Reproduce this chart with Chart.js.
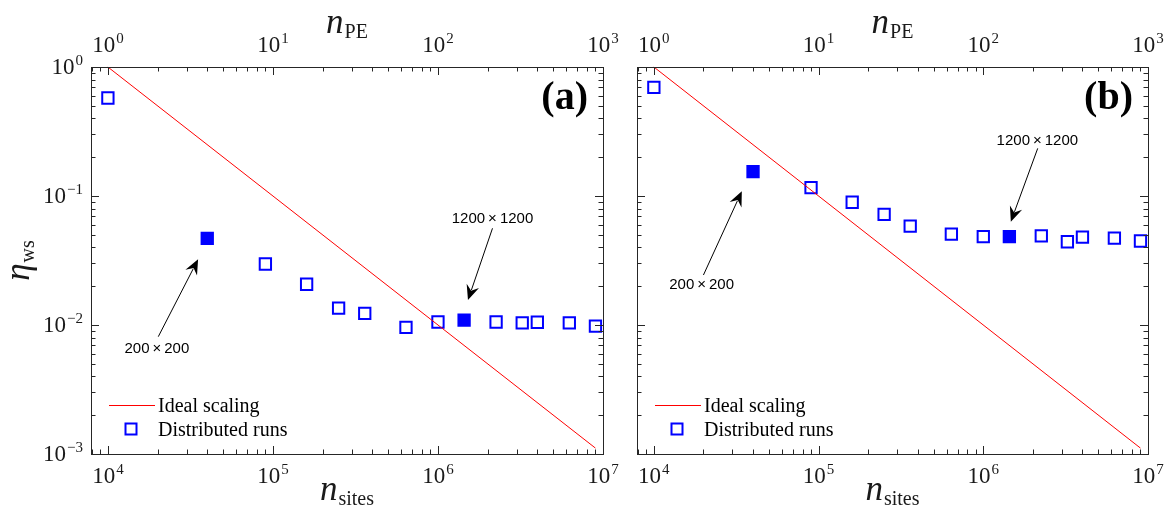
<!DOCTYPE html>
<html>
<head>
<meta charset="utf-8">
<script src="https://cdn.jsdelivr.net/npm/chart.js@4.4.1/dist/chart.umd.min.js"></script>
<style>
  body { margin: 0; background: #fff; }
  #wrap { position: relative; width: 1165px; height: 510px; }
  canvas { position: absolute; top: 0; }
  #chart-a { left: 0; }
  #chart-b { left: 620px; }
</style>
</head>
<body>
<div id="wrap">
  <canvas id="chart-a" width="620" height="510"></canvas>
  <canvas id="chart-b" width="545" height="510"></canvas>
</div>
<script>
// lattice sizes (n_sites), n_PE = n_sites / 1e4
const nSites = [1e4, 4e4, 9e4, 1.6e5, 2.5e5, 3.6e5, 6.4e5, 1e6, 1.44e6, 2.25e6, 3.24e6, 4e6, 6.25e6, 9e6];
// weak scaling efficiency, panel (a) and (b)
const etaA = [0.575, 0.0470, 0.0297, 0.0207, 0.0135, 0.0123, 0.0096, 0.01055, 0.0109, 0.01055, 0.0104, 0.0105, 0.0104, 0.0098];
const etaB = [0.696, 0.1544, 0.116, 0.0894, 0.0721, 0.0585, 0.0507, 0.0484, 0.0484, 0.0490, 0.0442, 0.0480, 0.0472, 0.0448];
// highlighted runs (filled squares)
const filledSites = [4e4, 1.44e6];
// ideal scaling line
const idealX = [1e4, 9e6];
const idealY = [1, 1 / 900];
// axis decades
const bottomExps = [4, 5, 6, 7];
const topExps = [0, 1, 2, 3];
const leftExps = [-3, -2, -1, 0];
const xMin = 7.9e3, xMax = 1e7, yMin = 1e-3, yMax = 1;

// annotations, [text, textX, textY, tailX, tailY, headX, headY] in data units
const annotA = [
  ['200\u2009\u00d7\u2009200', 1.98e4, 6.52e-3, 2.02e4, 8.12e-3, 3.52e4, 0.0323],
  ['1200\u2009\u00d7\u20091200', 2.14e6, 0.0663, 2.14e6, 0.0562, 1.52e6, 0.0156]
];
const annotB = [
  ['200\u2009\u00d7\u2009200', 1.95e4, 0.0204, 2.0e4, 0.0244, 3.42e4, 0.109],
  ['1200\u2009\u00d7\u20091200', 2.13e6, 0.268, 2.14e6, 0.234, 1.47e6, 0.0632]
];

const SERIF = '"Liberation Serif", "Times New Roman", serif';
const SANS = '"Liberation Sans", Arial, sans-serif';
const AXIS = '#262626';

function powText(ctx, exp, x, y, align) {
  const base = '10';
  const sup = exp < 0 ? '\u2212' + (-exp) : String(exp);
  ctx.font = '23px ' + SERIF;
  const wb = ctx.measureText(base).width;
  ctx.font = '15px ' + SERIF;
  const ws = ctx.measureText(sup).width;
  const total = wb + ws + 1;
  const x0 = align === 'center' ? x - total / 2 : x - total;
  ctx.textAlign = 'left';
  ctx.textBaseline = 'alphabetic';
  ctx.font = '23px ' + SERIF;
  ctx.fillText(base, x0, y);
  ctx.font = '15px ' + SERIF;
  ctx.fillText(sup, x0 + wb + 1, y - 9);
}

function mathLabel(ctx, sym, sub, x, y) {
  // italic symbol + upright subscript, centred on x, baseline y
  ctx.font = 'italic 35px ' + SERIF;
  const w1 = ctx.measureText(sym).width;
  ctx.font = '20px ' + SERIF;
  const w2 = ctx.measureText(sub).width;
  const x0 = x - (w1 + w2 + 1) / 2;
  ctx.textAlign = 'left';
  ctx.textBaseline = 'alphabetic';
  ctx.font = 'italic 35px ' + SERIF;
  ctx.fillText(sym, x0, y);
  ctx.font = '20px ' + SERIF;
  ctx.fillText(sub, x0 + w1 + 1, y + 5);
}

function arrow(ctx, x1, y1, x2, y2) {
  const ang = Math.atan2(y2 - y1, x2 - x1);
  const L = 15, W = 6.5;
  const c = Math.cos(ang), s = Math.sin(ang);
  ctx.beginPath();
  ctx.moveTo(x1, y1);
  ctx.lineTo(x2 - c * L * 0.7, y2 - s * L * 0.7);
  ctx.stroke();
  ctx.beginPath();
  ctx.moveTo(x2, y2);
  ctx.lineTo(x2 - c * L - s * W, y2 - s * L + c * W);
  ctx.lineTo(x2 - c * L * 0.65, y2 - s * L * 0.65);
  ctx.lineTo(x2 - c * L + s * W, y2 - s * L - c * W);
  ctx.closePath();
  ctx.fill();
}

const decorPlugin = {
  id: 'decor',
  afterDraw(chart, args, o) {
    const ctx = chart.ctx;
    const a = chart.chartArea;
    const xs = chart.scales.x, xt = chart.scales.xTop, ys = chart.scales.y;
    ctx.save();
    ctx.strokeStyle = AXIS;
    ctx.fillStyle = AXIS;
    ctx.lineWidth = 1;

    // box
    ctx.strokeRect(Math.round(a.left) + 0.5, Math.round(a.top) + 0.5,
      Math.round(a.right - a.left), Math.round(a.bottom - a.top));

    // ticks (inward)
    ctx.beginPath();
    for (let e = 3; e <= 7; e++) {
      for (let m = 1; m <= 9; m++) {
        const v = m * Math.pow(10, e);
        if (v < xMin || v > xMax) continue;
        const px = Math.round(xs.getPixelForValue(v)) + 0.5;
        const len = m === 1 ? 8 : 4.5;
        ctx.moveTo(px, a.bottom); ctx.lineTo(px, a.bottom - len);
        ctx.moveTo(px, a.top); ctx.lineTo(px, a.top + len);
      }
    }
    for (let e = -3; e <= 0; e++) {
      for (let m = 1; m <= 9; m++) {
        const v = m * Math.pow(10, e);
        if (v < yMin || v > yMax) continue;
        const py = Math.round(ys.getPixelForValue(v)) + 0.5;
        const len = m === 1 ? 8 : 4.5;
        ctx.moveTo(a.left, py); ctx.lineTo(a.left + len, py);
        ctx.moveTo(a.right, py); ctx.lineTo(a.right - len, py);
      }
    }
    ctx.stroke();

    // tick labels
    ctx.fillStyle = '#1a1a1a';
    bottomExps.forEach(e => powText(ctx, e, xs.getPixelForValue(Math.pow(10, e)), a.bottom + 29, 'center'));
    topExps.forEach(e => powText(ctx, e, xt.getPixelForValue(Math.pow(10, e)), a.top - 15, 'center'));
    if (o.yLabels) {
      leftExps.forEach(e => powText(ctx, e, a.left - 8, ys.getPixelForValue(Math.pow(10, e)) + 7, 'right'));
    }

    // axis titles
    const cx = (a.left + a.right) / 2;
    mathLabel(ctx, 'n', 'PE', cx, 33);
    mathLabel(ctx, 'n', 'sites', cx, a.bottom + 46);
    if (o.yLabels) {
      ctx.save();
      ctx.translate(29, (a.top + a.bottom) / 2);
      ctx.rotate(-Math.PI / 2);
      mathLabel(ctx, '\u03b7', 'ws', 0, 0);
      ctx.restore();
    }

    // panel letter
    ctx.fillStyle = '#000';
    ctx.font = 'bold 40px ' + SERIF;
    ctx.textAlign = 'right';
    ctx.fillText(o.letter, a.right - 15, a.top + 42);

    // annotations
    ctx.strokeStyle = '#000';
    ctx.fillStyle = '#000';
    ctx.lineWidth = 1;
    ctx.font = '15px ' + SANS;
    ctx.textAlign = 'center';
    ctx.textBaseline = 'middle';
    o.annot.forEach(([t, tx, ty, x1, y1, x2, y2]) => {
      ctx.fillText(t, xs.getPixelForValue(tx), ys.getPixelForValue(ty));
      arrow(ctx, xs.getPixelForValue(x1), ys.getPixelForValue(y1),
        xs.getPixelForValue(x2), ys.getPixelForValue(y2));
    });

    // legend
    const ds = chart.data.datasets;
    const lx = a.left;
    const r1 = a.bottom - 49, r2 = a.bottom - 25;
    ctx.strokeStyle = ds[0].borderColor;
    ctx.lineWidth = ds[0].borderWidth;
    ctx.beginPath();
    ctx.moveTo(lx + 18, r1 + 0.5); ctx.lineTo(lx + 64, r1 + 0.5);
    ctx.stroke();
    ctx.strokeStyle = ds[1].pointBorderColor;
    ctx.lineWidth = ds[1].pointBorderWidth;
    ctx.strokeRect(lx + 34.5, r2 - 5.5, 11, 11);
    ctx.fillStyle = '#000';
    ctx.font = '20px ' + SERIF;
    ctx.textAlign = 'left';
    ctx.textBaseline = 'alphabetic';
    ctx.fillText(ds[0].label, lx + 67, r1 + 7);
    ctx.fillText(ds[1].label, lx + 67, r2 + 7);
    ctx.restore();
  }
};

function makePanel(id, eta, pad, opts) {
  return new Chart(document.getElementById(id), {
    type: 'line',
    data: {
      datasets: [
        {
          label: 'Ideal scaling',
          data: idealX.map((x, i) => ({ x, y: idealY[i] })),
          borderColor: '#ff0000',
          borderWidth: 1,
          pointRadius: 0,
          clip: false
        },
        {
          label: 'Distributed runs',
          data: nSites.map((x, i) => ({ x, y: eta[i] })),
          showLine: false,
          pointStyle: 'rect',
          pointRadius: 8,
          pointBorderWidth: 2,
          pointBorderColor: '#0000ff',
          pointBackgroundColor: nSites.map(n => filledSites.includes(n) ? '#0000ff' : 'rgba(0,0,0,0)'),
          clip: false
        }
      ]
    },
    options: {
      responsive: false,
      animation: false,
      layout: { padding: pad },
      scales: {
        x: { type: 'logarithmic', min: xMin, max: xMax, display: false },
        xTop: { type: 'logarithmic', position: 'top', min: xMin / 1e4, max: xMax / 1e4, display: false },
        y: { type: 'logarithmic', min: yMin, max: yMax, display: false }
      },
      plugins: {
        legend: { display: false },
        tooltip: { enabled: false },
        decor: opts
      }
    },
    plugins: [decorPlugin]
  });
}

makePanel('chart-a', etaA, { left: 91, right: 17, top: 67, bottom: 56 },
  { letter: '(a)', yLabels: true, annot: annotA });
makePanel('chart-b', etaB, { left: 17, right: 17, top: 67, bottom: 56 },
  { letter: '(b)', yLabels: false, annot: annotB });
</script>
</body>
</html>
